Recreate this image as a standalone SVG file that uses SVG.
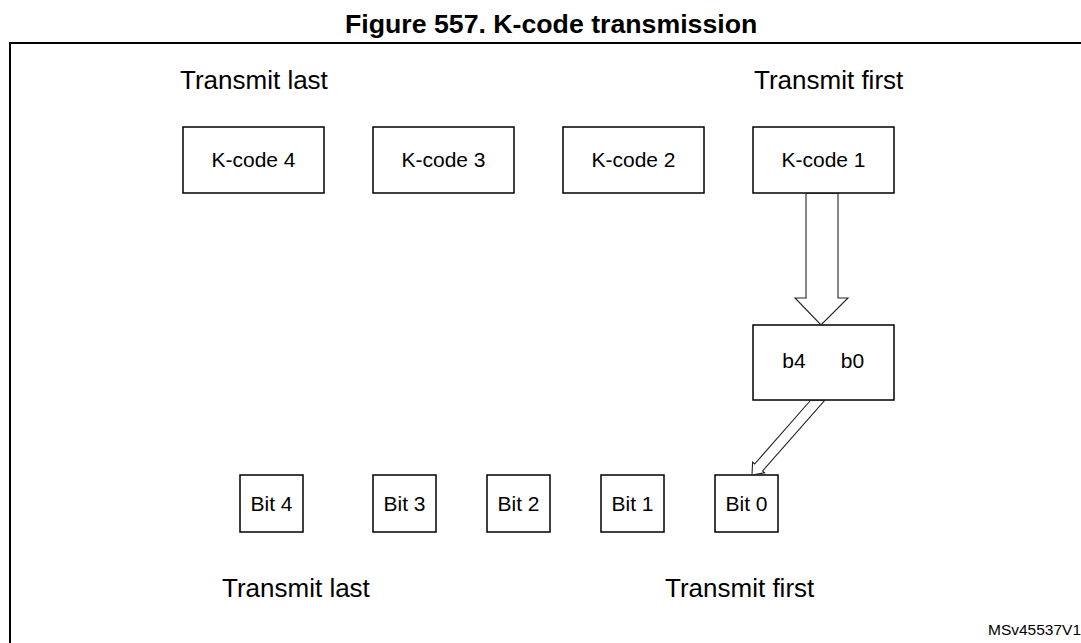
<svg xmlns="http://www.w3.org/2000/svg" width="1081" height="643" viewBox="0 0 1081 643">
<style>
text{font-family:"Liberation Sans",Arial,sans-serif;fill:#000}
.box{fill:#fff;stroke:#000;stroke-width:1.5}
.lbl{font-size:21px;text-anchor:middle}
.big{font-size:26px}
.arrow{fill:#fff;stroke:#222;stroke-width:1.1;stroke-linejoin:miter}
</style>
<rect x="0" y="0" width="1081" height="643" fill="#fff"/>
<text x="345" y="33" font-size="26.7" font-weight="bold" style="font-weight:bold">Figure 557. K-code transmission</text>
<path d="M10,700 V43 H1090" fill="none" stroke="#000" stroke-width="2"/>
<text class="big" x="180" y="89">Transmit last</text>
<text class="big" x="754" y="89">Transmit first</text>
<g id="kcode4"><rect class="box" x="183" y="127" width="141" height="66"/><text class="lbl" x="253.5" y="167">K-code 4</text></g>
<g id="kcode3"><rect class="box" x="373" y="127" width="141" height="66"/><text class="lbl" x="443.5" y="167">K-code 3</text></g>
<g id="kcode2"><rect class="box" x="563" y="127" width="141" height="66"/><text class="lbl" x="633.5" y="167">K-code 2</text></g>
<g id="kcode1"><rect class="box" x="753" y="127" width="141" height="66"/><text class="lbl" x="823.5" y="167">K-code 1</text></g>
<g id="bits"><rect class="box" x="753" y="325" width="141" height="75"/><text class="lbl" x="794" y="368">b4</text><text class="lbl" x="852.5" y="368">b0</text></g>
<g id="bit4"><rect class="box" x="240" y="475" width="63" height="57"/><text class="lbl" x="271.5" y="511">Bit 4</text></g>
<g id="bit3"><rect class="box" x="373" y="475" width="63" height="57"/><text class="lbl" x="404.5" y="511">Bit 3</text></g>
<g id="bit2"><rect class="box" x="487" y="475" width="63" height="57"/><text class="lbl" x="518.5" y="511">Bit 2</text></g>
<g id="bit1"><rect class="box" x="601" y="475" width="63" height="57"/><text class="lbl" x="632.5" y="511">Bit 1</text></g>
<g id="bit0"><rect class="box" x="715" y="475" width="63" height="57"/><text class="lbl" x="746.5" y="511">Bit 0</text></g>
<g id="connectors">
<polygon class="arrow" points="806,193.5 806,298 795,298 821,325 848,298 838,298 838,193.5"/>
<polygon class="arrow" points="810.4,400.5 754.6,464 752.6,462.2 752,475 764.6,472.8 762.6,471 824.5,400.5"/>
</g>
<text class="big" x="222" y="597">Transmit last</text>
<text class="big" x="665" y="597">Transmit first</text>
<text x="988" y="635" font-size="15.5">MSv45537V1</text>
</svg>
